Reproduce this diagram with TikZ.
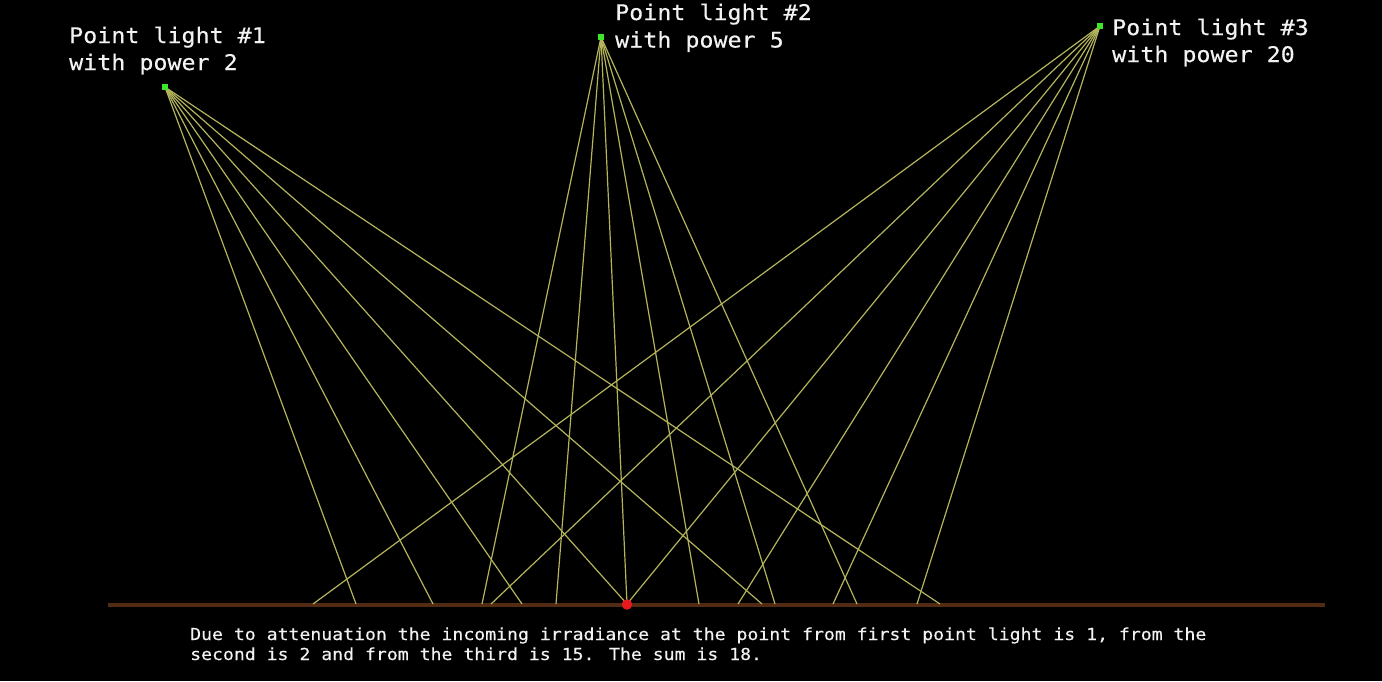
\documentclass[tikz,border=0pt]{standalone}
\usepackage{fontspec}
\newfontfamily\labfont[FakeStretch=1.085,FakeBold=0.3]{DejaVu Sans Mono}
\newfontfamily\notefont[FakeStretch=1.1,FakeBold=0.3]{DejaVu Sans Mono}
\definecolor{raycol}{RGB}{180,180,92}
\definecolor{groundcol}{RGB}{82,44,18}
\definecolor{lightcol}{RGB}{60,230,40}
\definecolor{dotcol}{RGB}{230,25,30}
\definecolor{txtcol}{RGB}{242,242,242}
\tikzset{
  lightsq/.style={fill=lightcol, draw=none, minimum size=6pt, inner sep=0pt, rectangle},
  ray/.style={draw=raycol, line width=1.2pt},
  ground/.style={draw=groundcol, line width=4pt},
  biglab/.style={anchor=base west, inner sep=0pt, text=txtcol, font=\labfont\fontsize{21.5}{26}\selectfont},
  smalllab/.style={anchor=base west, inner sep=0pt, text=txtcol, font=\notefont\fontsize{16.5}{20}\selectfont},
  hitdot/.style={circle, fill=dotcol, draw=none, minimum size=10.5pt, inner sep=0pt}
}
\begin{document}
\begin{tikzpicture}[x=1pt,y=-1pt]
\fill[black] (0,0) rectangle (1382,681);
\useasboundingbox (0,0) rectangle (1382,681);
% ground
\coordinate (G0) at (108,604.5);
\coordinate (G1) at (1325,604.5);
\draw[ground] (G0) -- (G1);
% light positions
\coordinate (C1) at (165,87);
\coordinate (C2) at (601,37);
\coordinate (C3) at (1100,26);
% ground hit coordinates
\foreach \x [count=\i] in {356,433,522,627,762,940} {\coordinate (a\i) at (\x,604);}
\foreach \x [count=\i] in {482,556,627,699,775,857} {\coordinate (b\i) at (\x,604);}
\foreach \x [count=\i] in {313,491,627,738,833,917} {\coordinate (c\i) at (\x,604);}
% rays
\foreach \i in {1,...,6} {
  \draw[ray] (C1) -- (a\i);
  \draw[ray] (C2) -- (b\i);
  \draw[ray] (C3) -- (c\i);
}
% lights
\node[lightsq] (L1) at (C1) {};
\node[lightsq] (L2) at (C2) {};
\node[lightsq] (L3) at (C3) {};
% hit point
\node[hitdot] (P) at (627,604.5) {};
% labels
\node[biglab] (t1a) at (69,43) {Point light \#1};
\node[biglab] (t1b) at (69,70) {with power 2};
\node[biglab] (t2a) at (615,20) {Point light \#2};
\node[biglab] (t2b) at (615,47.5) {with power 5};
\node[biglab] (t3a) at (1112,35) {Point light \#3};
\node[biglab] (t3b) at (1112,62) {with power 20};
\node[smalllab] (ba) at (190,640) {Due to attenuation the incoming irradiance at the point from first point light is 1, from the};
\node[smalllab] (bb) at (190,660) {second is 2 and from the third is 15. The sum is 18.};
\end{tikzpicture}
\end{document}
